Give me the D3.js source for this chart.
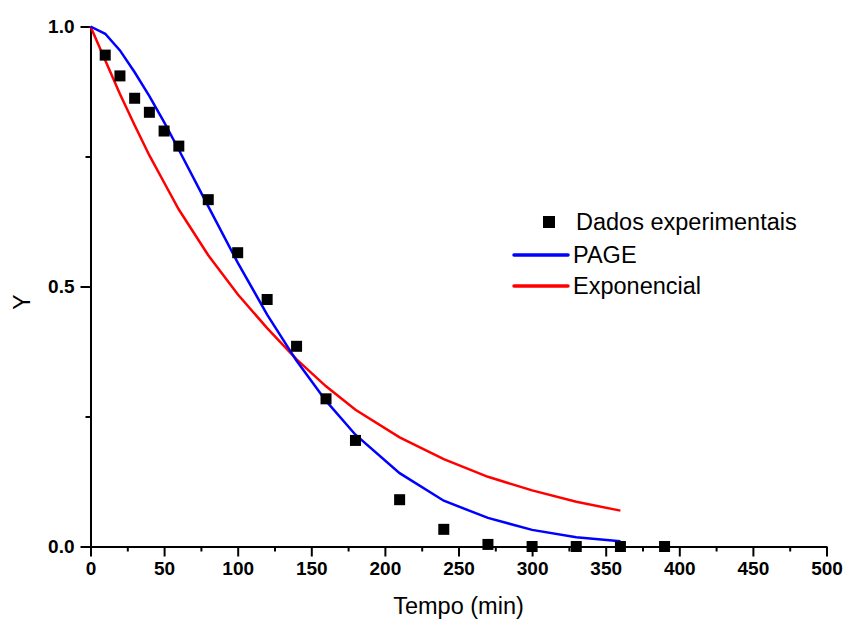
<!DOCTYPE html>
<html>
<head>
<meta charset="utf-8">
<script src="https://cdn.jsdelivr.net/npm/d3@7"></script>
<style>
  body { margin: 0; background: #fff; }
  svg { display: block; font-family: "Liberation Sans", Arial, sans-serif; }
  .tick text { font-weight: bold; }
</style>
</head>
<body>
<svg id="chart" width="845" height="621"></svg>
<script>
// experimental data (Tempo in min, Y)
let tempoExp = [10, 20, 30, 40, 50, 60, 80, 100, 120, 140, 160, 180, 210, 240, 270, 300, 330, 360, 390]
let yExp = [0.945, 0.905, 0.862, 0.835, 0.799, 0.770, 0.667, 0.565, 0.475, 0.385, 0.284, 0.204, 0.090, 0.033, 0.004, 0.0, 0.0, 0.0, 0.0]

// fitted curves
let tempoFit = [0, 10, 20, 30, 40, 50, 60, 80, 100, 120, 140, 160, 180, 210, 240, 270, 300, 330, 360]
let yPage = [1.0, 0.986, 0.954, 0.912, 0.866, 0.816, 0.763, 0.654, 0.546, 0.446, 0.357, 0.280, 0.215, 0.141, 0.088, 0.055, 0.032, 0.018, 0.010]
let yExpo = [1.0, 0.935, 0.870, 0.810, 0.752, 0.700, 0.648, 0.560, 0.485, 0.420, 0.360, 0.308, 0.263, 0.210, 0.168, 0.134, 0.108, 0.086, 0.069]

let xTicks = [0, 50, 100, 150, 200, 250, 300, 350, 400, 450, 500]
let xMinor = [25, 75, 125, 175, 225, 275, 325, 375, 425, 475]
let yTicks = [0, 0.5, 1.0]
let yMinor = [0.25, 0.75]

let legendItems = [
  { name: "Dados experimentais", type: "square", color: "#000" },
  { name: "PAGE", type: "line", color: "#0000ff" },
  { name: "Exponencial", type: "line", color: "#ff0000" }
]

let svg = d3.select("#chart")

let xScale = d3.scaleLinear().domain([0, 500]).range([90.5, 826.5])
let yScale = d3.scaleLinear().domain([0, 1]).range([546.5, 26.5])

// minor ticks
let xMinorAxis = d3.axisBottom(xScale).tickValues(xMinor).tickSize(5).tickFormat("")
svg.append("g")
  .attr("transform", `translate(0, ${yScale(0)})`)
  .call(xMinorAxis)
  .call(g => g.select(".domain").remove())
  .call(g => g.selectAll("line").attr("stroke-width", 2))

let yMinorAxis = d3.axisLeft(yScale).tickValues(yMinor).tickSize(5).tickFormat("")
svg.append("g")
  .attr("transform", `translate(${xScale(0)}, 0)`)
  .call(yMinorAxis)
  .call(g => g.select(".domain").remove())
  .call(g => g.selectAll("line").attr("stroke-width", 2))

// major axes
let xAxis = d3.axisBottom(xScale).tickValues(xTicks).tickSize(10).tickSizeOuter(0).tickPadding(5)
svg.append("g")
  .attr("transform", `translate(0, ${yScale(0)})`)
  .call(xAxis)
  .call(g => g.selectAll("line").attr("stroke-width", 2))
  .call(g => g.select(".domain").attr("stroke-width", 2))
  .call(g => g.selectAll("text").attr("font-size", 19).attr("fill", "#000"))

let yAxis = d3.axisLeft(yScale).tickValues(yTicks).tickSize(10).tickSizeOuter(0).tickPadding(6)
  .tickFormat(d3.format(".1f"))
svg.append("g")
  .attr("transform", `translate(${xScale(0)}, 0)`)
  .call(yAxis)
  .call(g => g.selectAll("line").attr("stroke-width", 2))
  .call(g => g.select(".domain").attr("stroke-width", 2))
  .call(g => g.selectAll("text").attr("font-size", 19).attr("fill", "#000"))

// axis titles
svg.append("text")
  .attr("x", (xScale(0) + xScale(500)) / 2)
  .attr("y", 614)
  .attr("text-anchor", "middle")
  .attr("font-size", 23.5)
  .text("Tempo (min)")

svg.append("text")
  .attr("transform", "translate(30, 302) rotate(-90)")
  .attr("text-anchor", "middle")
  .attr("font-size", 23)
  .text("Y")

// curves
let line = d3.line()
  .x((d, i) => xScale(tempoFit[i]))
  .y(d => yScale(d))

svg.append("path")
  .datum(yExpo)
  .attr("d", line)
  .attr("fill", "none")
  .attr("stroke", "#ff0000")
  .attr("stroke-width", 2.5)

svg.append("path")
  .datum(yPage)
  .attr("d", line)
  .attr("fill", "none")
  .attr("stroke", "#0000ff")
  .attr("stroke-width", 2.5)

// experimental points
let sq = 11
svg.selectAll("rect.pt")
  .data(tempoExp)
  .enter()
  .append("rect")
  .attr("class", "pt")
  .attr("x", d => xScale(d) - sq / 2)
  .attr("y", (d, i) => yScale(yExp[i]) - sq / 2)
  .attr("width", sq)
  .attr("height", sq)
  .attr("fill", "#000")

// legend
let legend = svg.append("g").attr("transform", "translate(513, 222)")
legendItems.forEach((item, i) => {
  let g = legend.append("g").attr("transform", `translate(0, ${i * 31 + (i > 0 ? 2 : 0)})`)
  if (item.type == "square") {
    g.append("rect").attr("x", 30).attr("y", -6).attr("width", 12).attr("height", 12).attr("fill", item.color)
    g.append("text").attr("x", 63).attr("y", 8).attr("font-size", 23.5).text(item.name)
  } else {
    g.append("line").attr("x1", 1).attr("x2", 55).attr("y1", 0).attr("y2", 0)
      .attr("stroke", item.color).attr("stroke-width", 3.5).attr("stroke-linecap", "round")
    g.append("text").attr("x", 60).attr("y", 8).attr("font-size", 23.5).text(item.name)
  }
})
</script>
</body>
</html>
